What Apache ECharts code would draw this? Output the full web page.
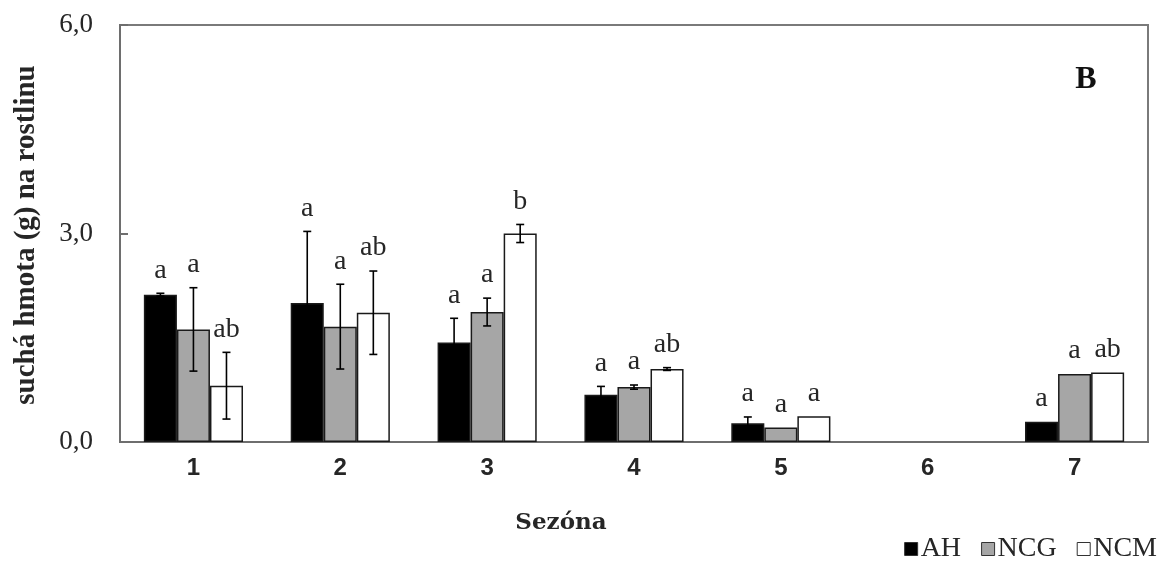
<!DOCTYPE html>
<html>
<head>
<meta charset="utf-8">
<title>Suchá hmota na rostlinu</title>
<script src="https://cdn.jsdelivr.net/npm/echarts@6/dist/echarts.min.js"></script>
<style>
  html, body { margin: 0; padding: 0; background: #ffffff; }
  #chart { width: 1174px; height: 561px; }
</style>
</head>
<body>
<div id="chart"></div>
<script>
// Seasons on the x axis
const seasons = ['1', '2', '3', '4', '5', '6', '7'];

// Mean dry mass per plant (g)
const valuesAH  = [2.12, 2.00, 1.43, 0.68, 0.27, 0, 0.29];
const valuesNCG = [1.62, 1.66, 1.87, 0.79, 0.21, 0, 0.98];
const valuesNCM = [0.81, 1.86, 3.00, 1.05, 0.37, 0, 1.00];

// Error bar half-lengths (g)
const errorsAH  = [0.02, 1.03, 0.35, 0.12, 0.09, 0, 0];
const errorsNCG = [0.60, 0.61, 0.20, 0.03, 0, 0, 0];
const errorsNCM = [0.48, 0.60, 0.13, 0.02, 0, 0, 0];

// Significance letters
const lettersAH  = ['a', 'a', 'a', 'a', 'a', '', 'a'];
const lettersNCG = ['a', 'a', 'a', 'a', 'a', '', 'a'];
const lettersNCM = ['ab', 'ab', 'b', 'ab', 'a', '', 'ab'];

// Y axis range and tick step
const yMin = 0, yMax = 6, yStep = 3;

const seriesDefs = [
  { name: 'AH',  values: valuesAH,  errors: errorsAH,  letters: lettersAH,  color: '#000000' },
  { name: 'NCG', values: valuesNCG, errors: errorsNCG, letters: lettersNCG, color: '#a6a6a6' },
  { name: 'NCM', values: valuesNCM, errors: errorsNCM, letters: lettersNCM, color: '#ffffff' }
];

const BAR_RATIO = 0.225;   // bar width as a share of the category band
const SERIF = '"Liberation Serif", "Times New Roman", serif';
const SANS = '"Liberation Sans", Arial, sans-serif';
const INK = '#262626';

const chart = echarts.init(document.getElementById('chart'), null, { renderer: 'canvas' });

const series = [];
seriesDefs.forEach(function (def) {
  series.push({
    name: def.name,
    type: 'bar',
    // empty seasons get no outline, so nothing shows on the baseline
    data: def.values.map(function (v) {
      return v === 0 ? { value: v, itemStyle: { borderWidth: 0 } } : v;
    }),
    barWidth: (BAR_RATIO * 100) + '%',
    barGap: '0%',
    itemStyle: { color: def.color, borderColor: '#1a1a1a', borderWidth: 1.5 },
    emphasis: { disabled: true },
    z: 2
  });
});

// Error bars and letters drawn on top of each bar
seriesDefs.forEach(function (def, si) {
  series.push({
    type: 'custom',
    name: def.name + '-err',
    data: def.values.map(function (v, i) { return [i, v, def.errors[i]]; }),
    encode: { x: 0, y: 1 },
    z: 5,
    silent: true,
    renderItem: function (params, api) {
      const idx = api.value(0);
      const val = api.value(1);
      const err = api.value(2);
      const letter = def.letters[idx];
      const band = api.size([1, 0])[0];
      const base = api.coord([idx, val]);
      const x = base[0] + (si - 1) * band * BAR_RATIO;
      const children = [];
      let topVal = val;
      if (err > 0) {
        const hi = api.coord([idx, val + err])[1];
        const lo = api.coord([idx, Math.max(val - err, 0)])[1];
        const cap = 4;
        const st = { stroke: '#000000', lineWidth: 1.6 };
        children.push({ type: 'line', shape: { x1: x, y1: hi, x2: x, y2: lo }, style: st });
        children.push({ type: 'line', shape: { x1: x - cap, y1: hi, x2: x + cap, y2: hi }, style: st });
        children.push({ type: 'line', shape: { x1: x - cap, y1: lo, x2: x + cap, y2: lo }, style: st });
        topVal = val + err;
      }
      if (letter) {
        const ty = api.coord([idx, topVal])[1];
        children.push({
          type: 'text',
          style: {
            text: letter, x: x, y: ty - 9,
            align: 'center', verticalAlign: 'bottom',
            font: '28px ' + SERIF, fill: INK
          }
        });
      }
      return { type: 'group', children: children };
    }
  });
});

const option = {
  animation: false,
  backgroundColor: '#ffffff',
  grid: {
    left: 120, right: 26, top: 25, bottom: 119,
    show: true, borderColor: '#7a7a7a', borderWidth: 2, backgroundColor: 'transparent'
  },
  legend: {
    data: seriesDefs.map(function (d) { return d.name; }),
    right: 12, top: 530,
    icon: 'rect', itemWidth: 13, itemHeight: 13, itemGap: 20,
    textStyle: { fontFamily: SERIF, fontSize: 28, color: INK, padding: [0, 0, 0, -2] },
    itemStyle: { borderColor: '#333333', borderWidth: 1 }
  },
  xAxis: {
    type: 'category',
    data: seasons,
    axisLine: { show: true, lineStyle: { color: '#6e6e6e', width: 2 } },
    axisTick: { show: false },
    axisLabel: { fontFamily: SANS, fontWeight: 'bold', fontSize: 24, color: INK, margin: 14 },
    splitLine: { show: false }
  },
  yAxis: {
    type: 'value',
    min: yMin, max: yMax, interval: yStep,
    axisLine: { show: true, lineStyle: { color: '#6e6e6e', width: 2 } },
    axisTick: { show: true, inside: true, length: 8, lineStyle: { color: '#6e6e6e', width: 2 } },
    axisLabel: {
      fontFamily: SERIF, fontSize: 27, color: INK, margin: 27,
      formatter: function (v) { return v.toFixed(1).replace('.', ','); }
    },
    splitLine: { show: false }
  },
  graphic: [
    {
      type: 'text', x: 27, y: 235, rotation: Math.PI / 2,
      style: {
        text: 'suchá hmota (g) na rostlinu', align: 'center', verticalAlign: 'middle',
        font: 'bold 29px ' + SERIF, fill: INK
      }
    },
    {
      type: 'text', x: 561, y: 523,
      style: {
        text: 'Sezóna', align: 'center', verticalAlign: 'middle',
        font: 'bold 23px "DejaVu Serif", serif', fill: INK
      }
    },
    {
      type: 'text', x: 1086, y: 80,
      style: {
        text: 'B', align: 'center', verticalAlign: 'middle',
        font: 'bold 32px ' + SERIF, fill: '#111111'
      }
    }
  ],
  series: series
};

chart.setOption(option);
</script>
</body>
</html>
